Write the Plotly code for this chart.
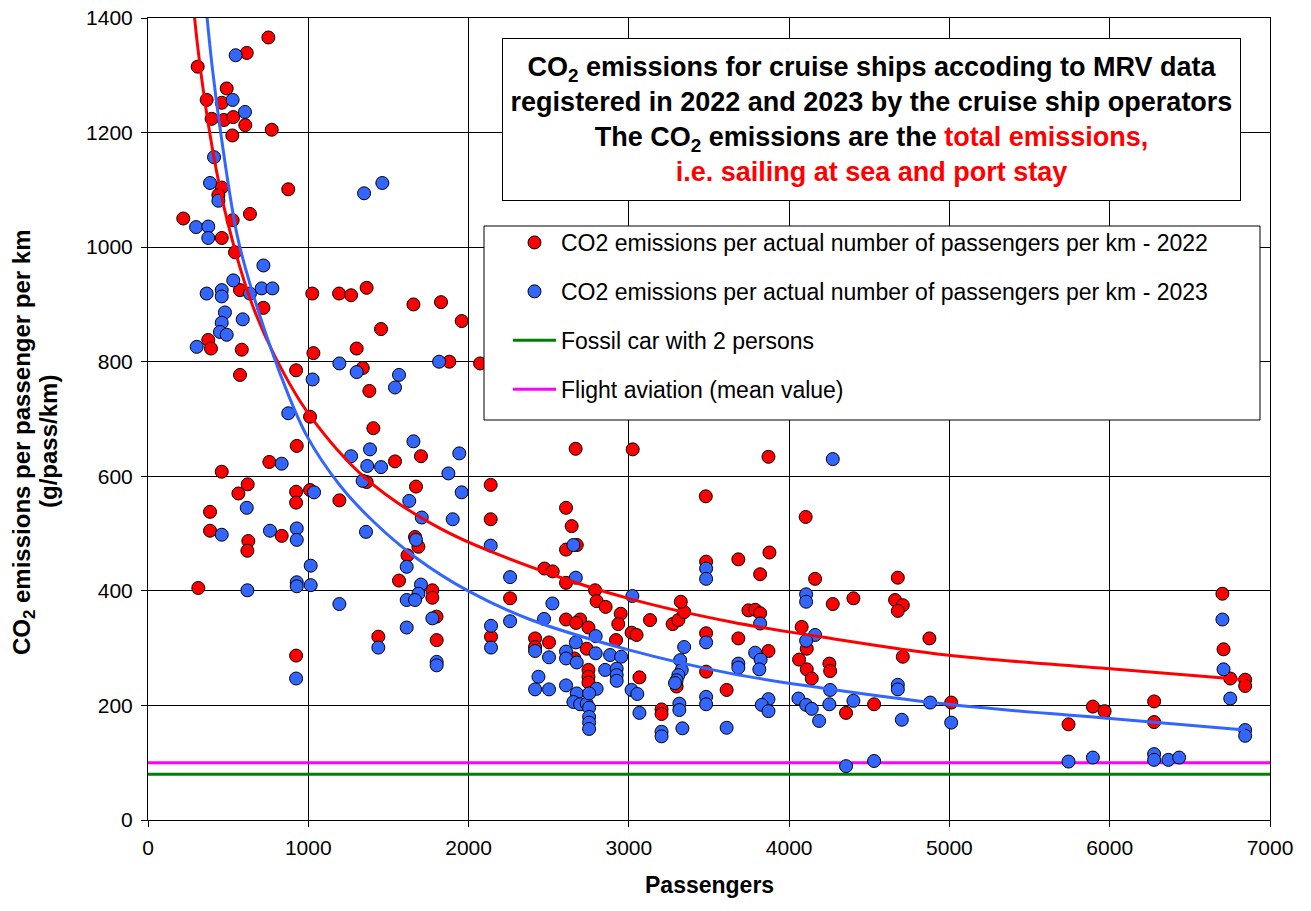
import plotly.graph_objects as go

# ---------------- data ----------------
pass_2022 = [751, 616, 310, 491, 366, 460, 397, 474, 532, 607, 772, 526, 460, 875, 439, 220, 636, 528, 460, 543,
             574, 1025, 1192, 1267, 1364, 1656, 1828, 720, 1454, 376, 393, 585, 1302, 1032, 1340, 924, 574, 1381, 1011, 1406,
             928, 1703, 757, 1541, 460, 1364, 622, 1672, 564, 924, 1011, 1194, 924, 387, 387, 834, 626, 620, 1666, 1687,
             1619, 314, 924, 1437, 1566, 1774, 1774, 1800, 1801, 1957, 1880, 2072, 2138, 2138, 2668, 3024, 3480, 2608, 2643, 2608,
             2675, 2259, 2140, 2473, 2525, 2608, 2789, 2799, 2855, 2949, 2934, 2608, 2696, 2671, 2748, 3132, 3273, 3309, 3345, 3324,
             3482, 3017, 3048, 2920, 2415, 2415, 2502, 2737, 2660, 2748, 2748, 2748, 3066, 3204, 3204, 3298, 3482, 3482, 3610, 3871,
             4103, 3877, 3683, 3819, 4162, 4678, 4272, 4401, 4661, 4709, 4678, 3746, 3788, 3819, 3683, 4078, 4110, 4875, 4709, 3871,
             4062, 4110, 4141, 4251, 4256, 4355, 4530, 5011, 6703, 6710, 6752, 6845, 6845, 5743, 5895, 5968, 6277, 6277]
co2_2022 = [1366, 1339, 1315, 1277, 1257, 1252, 1224, 1222, 1227, 1213, 1205, 1195, 1104, 1101, 1091, 1050, 1058, 1047, 1016, 991,
            925, 919, 919, 916, 929, 900, 904, 894, 857, 838, 823, 821, 823, 815, 789, 785, 777, 749, 704, 684,
            653, 635, 625, 626, 608, 590, 586, 582, 570, 573, 576, 558, 554, 538, 505, 496, 487, 470, 494, 477,
            462, 405, 287, 320, 418, 401, 388, 355, 314, 871, 800, 797, 585, 525, 648, 647, 565, 545, 513, 472,
            480, 387, 320, 439, 434, 414, 401, 382, 372, 360, 342, 350, 350, 344, 336, 349, 342, 349, 363, 381,
            451, 327, 323, 314, 317, 302, 310, 299, 282, 262, 250, 240, 249, 193, 185, 233, 326, 259, 227, 634,
            529, 467, 455, 429, 421, 423, 377, 387, 384, 375, 365, 366, 367, 361, 317, 337, 299, 317, 285, 295,
            280, 263, 247, 273, 260, 187, 202, 205, 395, 298, 247, 245, 234, 167, 198, 190, 207, 171]

pass_2023 = [547, 528, 605, 412, 387, 439, 1348, 1462, 300, 376, 376, 720, 532, 366, 460, 460, 636, 709, 776, 480,
             591, 460, 449, 491, 304, 1194, 1816, 1302, 1027, 1566, 1541, 875, 1656, 1385, 1267, 834, 1368, 1454, 1339, 1036,
             616, 1630, 1708, 460, 761, 928, 928, 1360, 1672, 620, 928, 928, 1015, 1015, 1194, 924, 1437, 1614, 1703, 1687,
             1614, 1666, 1774, 1614, 1801, 1801, 2259, 2259, 2140, 2140, 1942, 1874, 1957, 1901, 2138, 2654, 4272, 2669, 2523, 3022,
             2471, 3482, 3482, 2793, 2669, 2415, 2502, 2608, 2608, 2793, 2883, 2952, 2675, 2852, 2924, 2924, 2924, 2799, 2436, 2415,
             2502, 2608, 2675, 2654, 2696, 2737, 2752, 2752, 2752, 2752, 2752, 3017, 3053, 3066, 3204, 3204, 3345, 3320, 3330, 3309,
             3298, 3288, 3315, 3315, 3334, 3482, 3482, 3482, 3610, 4106, 4106, 3819, 4162, 4106, 3788, 3822, 3814, 3683, 3683, 4678,
             4678, 4256, 3871, 3829, 3871, 4058, 4106, 4141, 4187, 4251, 4401, 4703, 4880, 5011, 4355, 4530, 6703, 6710, 6752, 6845,
             6845, 5743, 5895, 6277, 6277, 6366, 6433]
co2_2023 = [1335, 1257, 1236, 1157, 1112, 1081, 1094, 1112, 1035, 1036, 1016, 968, 942, 919, 925, 914, 919, 928, 928, 886,
            874, 868, 852, 847, 826, 797, 800, 782, 769, 777, 755, 710, 661, 647, 635, 622, 618, 616, 592, 572,
            545, 557, 528, 498, 505, 509, 489, 503, 489, 401, 415, 408, 444, 410, 377, 247, 301, 442, 411, 395,
            384, 384, 352, 336, 276, 270, 424, 347, 339, 301, 640, 605, 572, 525, 479, 480, 630, 423, 378, 391,
            351, 439, 421, 321, 310, 295, 284, 294, 282, 291, 288, 285, 275, 262, 264, 253, 243, 229, 250, 228,
            228, 235, 221, 206, 202, 203, 221, 196, 180, 170, 159, 227, 220, 187, 154, 146, 302, 279, 262, 253,
            244, 239, 203, 192, 160, 310, 215, 202, 161, 394, 381, 343, 323, 313, 292, 280, 263, 273, 266, 236,
            228, 227, 211, 201, 190, 212, 201, 194, 173, 202, 208, 175, 205, 170, 94, 103, 350, 263, 212, 157,
            147, 102, 109, 115, 105, 105, 109]

# power trendlines
trend_2022_x = [250, 310, 400, 500, 650, 800, 1000, 1364, 1822, 2446, 3008, 3632, 4193, 4983, 6003, 6845]
trend_2022_y = [1530, 1350, 1175, 1040, 900, 805, 710, 595, 509, 436, 386, 346, 320, 288, 264, 245]
trend_2023_x = [340, 400, 460, 553, 636, 823, 990, 1198, 1406, 1676, 2003, 2384, 2999, 3632, 4193, 4990, 6003, 6845]
trend_2023_y = [1485, 1316, 1187, 1025, 936, 780, 671, 584, 521, 457, 399, 350, 297, 256, 231, 202, 177, 157]

car_value = 80        # g/pass/km, fossil car with 2 persons
flight_value = 100    # g/pass/km, flight aviation mean value
ref_x = [0, 7000]

x_ticks = [0, 1000, 2000, 3000, 4000, 5000, 6000, 7000]
y_ticks = [0, 200, 400, 600, 800, 1000, 1200, 1400]

RED = "#FF0000"
BLUE = "#3366FF"

fig = go.Figure()

fig.add_trace(go.Scatter(x=ref_x, y=[car_value] * 2, mode="lines",
                         line=dict(color="#008000", width=3),
                         name="Fossil car with 2 persons", legendrank=3, legendgroup="c"))
fig.add_trace(go.Scatter(x=ref_x, y=[flight_value] * 2, mode="lines",
                         line=dict(color="#FF00FF", width=3),
                         name="Flight aviation (mean value)", legendrank=4, legendgroup="d"))

fig.add_trace(go.Scatter(x=pass_2022, y=co2_2022, mode="markers",
                         marker=dict(color=RED, size=13, line=dict(color="black", width=1)),
                         name="CO2 emissions per actual number of passengers per km - 2022",
                         legendrank=1, legendgroup="a"))
fig.add_trace(go.Scatter(x=pass_2023, y=co2_2023, mode="markers",
                         marker=dict(color=BLUE, size=13, line=dict(color="black", width=1)),
                         name="CO2 emissions per actual number of passengers per km - 2023",
                         legendrank=2, legendgroup="b"))

fig.add_trace(go.Scatter(x=trend_2022_x, y=trend_2022_y, mode="lines",
                         line=dict(color=RED, width=3, shape="spline", smoothing=1.0),
                         showlegend=False, hoverinfo="skip"))
fig.add_trace(go.Scatter(x=trend_2023_x, y=trend_2023_y, mode="lines",
                         line=dict(color=BLUE, width=3, shape="spline", smoothing=1.0),
                         showlegend=False, hoverinfo="skip"))

# plot area in page pixels (page has an 8px body margin)
OFF = 8
L, R, T, B = 148, 1270, 18, 820
W, H = 1311 - OFF, 911 - OFF
PW, PH = R - L, B - T


def px(xp):
    return (xp - L) / PW


def py(yp):
    return (B - yp) / PH


axis_common = dict(showline=True, linecolor="black", linewidth=1, mirror=True,
                   showgrid=True, gridcolor="black", gridwidth=1, zeroline=False,
                   ticks="outside", ticklen=6, tickcolor="black", tickwidth=1,
                   ticklabeloverflow="allow", automargin=False,
                   tickfont=dict(family="Liberation Sans, Arial, sans-serif", size=21, color="black"))

fig.update_layout(
    width=W, height=H,
    margin=dict(l=L - OFF, r=W - (R - OFF), t=T - OFF, b=H - (B - OFF), autoexpand=False),
    paper_bgcolor="white", plot_bgcolor="white",
    font=dict(family="Liberation Sans, Arial, sans-serif", color="black"),
    xaxis=dict(range=[0, 7000], tickvals=x_ticks, ticklabelstandoff=3, **axis_common),
    yaxis=dict(range=[0, 1400], tickvals=y_ticks, ticklabelstandoff=4, **axis_common),
    showlegend=True,
    legend=dict(x=px(508), y=py(221), xanchor="left", yanchor="top",
                bgcolor="rgba(0,0,0,0)", borderwidth=0,
                font=dict(size=23, color="black"), tracegroupgap=16, itemwidth=43,
                traceorder="grouped"),
    shapes=[dict(type="rect", xref="paper", yref="paper",
                 x0=px(484), x1=px(1260), y0=py(420), y1=py(226),
                 fillcolor="white", line=dict(color="black", width=1), layer="above")],
)

title_text = ("<b>CO<sub>2</sub> emissions for cruise ships accoding to MRV data<br>"
              "registered in 2022 and 2023 by the cruise ship operators<br>"
              "The CO<sub>2</sub> emissions are the <span style='color:#FF0000'>total emissions,</span><br>"
              "<span style='color:#FF0000'>i.e. sailing at sea and port stay</span></b>")

fig.add_annotation(text=title_text, xref="paper", yref="paper",
                   x=px(871.5), y=py(119.5), xanchor="center", yanchor="middle",
                   showarrow=False, align="center", width=737, height=161, valign="middle",
                   bgcolor="white", bordercolor="black", borderwidth=1, borderpad=0,
                   font=dict(size=27, color="black"))

fig.add_annotation(text="<b>CO<sub>2</sub> emissions per passenger per km</b>", xref="paper", yref="paper",
                   x=px(24), y=py(442), xanchor="center", yanchor="middle", textangle=-90,
                   showarrow=False, font=dict(size=24, color="black"))
fig.add_annotation(text="<b>(g/pass/km)</b>", xref="paper", yref="paper",
                   x=px(49), y=py(442), xanchor="center", yanchor="middle", textangle=-90,
                   showarrow=False, font=dict(size=24, color="black"))
fig.add_annotation(text="<b>Passengers</b>", xref="paper", yref="paper",
                   x=px(709), y=py(885), xanchor="center", yanchor="middle",
                   showarrow=False, font=dict(size=23, color="black"))

fig.write_html("out.html")
